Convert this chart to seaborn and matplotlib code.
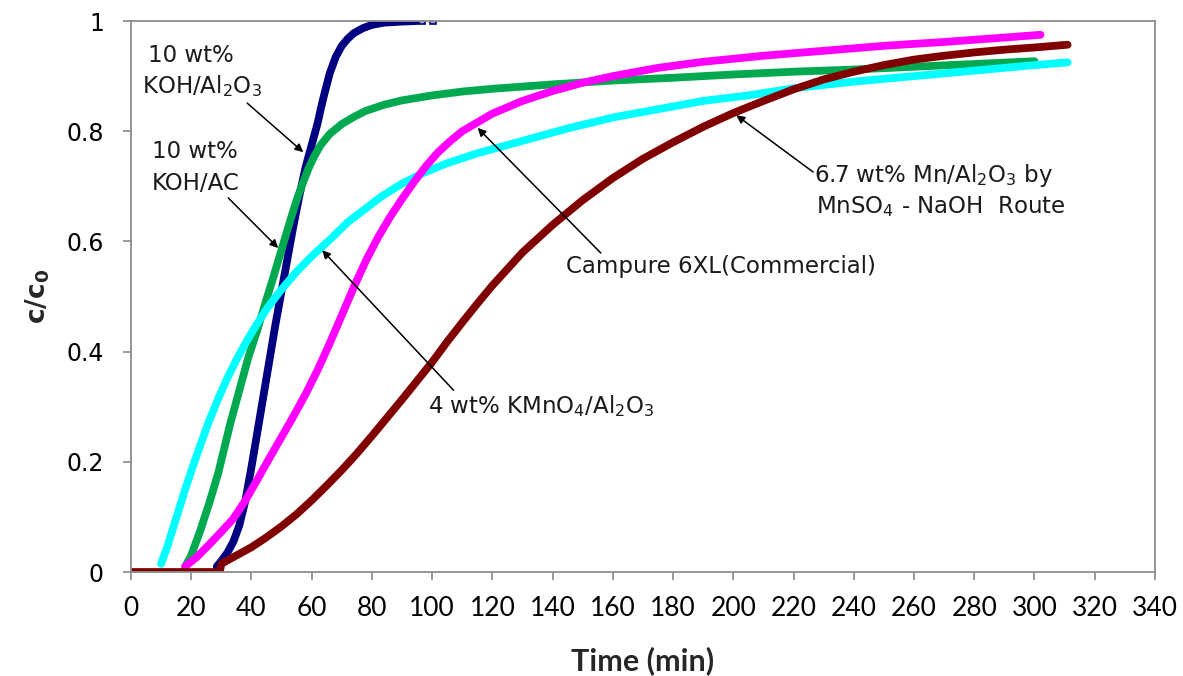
import numpy as np
import pandas as pd
import matplotlib
matplotlib.use("Agg")
import matplotlib.pyplot as plt
import seaborn as sns

# Breakthrough curves: time (min) vs c/c0
koh_al2o3_t = [28.5, 30, 32, 34, 36, 38, 40, 42, 44, 46, 48, 50, 52, 54, 56, 58, 60, 62, 63,
               64, 66, 68, 70, 72, 74, 77, 80, 84, 90, 95, 96.7, 100.3]
koh_al2o3_c = [0.01, 0.02, 0.035, 0.055, 0.085, 0.13, 0.19, 0.255, 0.32, 0.385, 0.45, 0.51,
               0.57, 0.63, 0.685, 0.735, 0.775, 0.815, 0.84, 0.863, 0.905, 0.935, 0.955,
               0.968, 0.978, 0.987, 0.993, 0.997, 0.999, 1.0, 1.0, 1.0]

koh_ac_t = [18, 20, 23, 26, 29, 31, 33, 36, 39, 42, 45, 47, 50, 53, 55, 57, 59, 61, 63, 66,
            70, 74, 78, 84, 90, 100, 110, 120, 140, 160, 180, 200, 220, 240, 260, 280, 300]
koh_ac_c = [0.01, 0.03, 0.075, 0.125, 0.18, 0.225, 0.27, 0.33, 0.39, 0.44, 0.495, 0.53,
            0.585, 0.64, 0.675, 0.705, 0.733, 0.756, 0.775, 0.795, 0.813, 0.826, 0.837,
            0.848, 0.856, 0.865, 0.872, 0.877, 0.885, 0.892, 0.897, 0.903, 0.908, 0.912,
            0.917, 0.922, 0.927]

kmno4_t = [10, 12, 14, 16, 18, 20, 23, 26, 29, 32, 35, 38, 41, 45, 50, 55, 60, 66, 72, 78,
           83, 90, 97, 105, 115, 125, 135, 145, 160, 175, 190, 205, 220, 240, 260, 280, 300,
           311]
kmno4_c = [0.015, 0.045, 0.08, 0.115, 0.15, 0.183, 0.23, 0.275, 0.315, 0.352, 0.385, 0.415,
           0.443, 0.477, 0.513, 0.545, 0.573, 0.603, 0.635, 0.66, 0.681, 0.705, 0.724, 0.742,
           0.76, 0.775, 0.79, 0.805, 0.825, 0.84, 0.855, 0.865, 0.878, 0.89, 0.90, 0.91,
           0.92, 0.925]

campure_t = [18, 22, 26, 30, 34, 38, 42, 46, 50, 54, 58, 62, 66, 70, 74, 78, 82, 86, 90, 94,
             98, 102, 106, 110, 115, 120, 130, 140, 150, 160, 175, 190, 210, 230, 250, 270,
             290, 302]
campure_c = [0.01, 0.028, 0.05, 0.073, 0.097, 0.13, 0.168, 0.207, 0.245, 0.283, 0.323,
             0.367, 0.415, 0.466, 0.517, 0.565, 0.607, 0.644, 0.677, 0.708, 0.737, 0.762,
             0.782, 0.80, 0.816, 0.832, 0.855, 0.873, 0.888, 0.90, 0.915, 0.926, 0.937,
             0.946, 0.955, 0.962, 0.97, 0.975]

mn_t = [0, 29.5, 30, 35, 40, 45, 50, 55, 60, 65, 70, 75, 80, 85, 90, 95, 100, 105, 110, 115,
        120, 130, 140, 150, 160, 170, 180, 190, 200, 210, 220, 230, 240, 250, 260, 270, 280,
        290, 300, 311]
mn_c = [0.0, 0.0, 0.015, 0.03, 0.045, 0.063, 0.083, 0.105, 0.13, 0.157, 0.185, 0.215, 0.247,
        0.28, 0.313, 0.347, 0.381, 0.418, 0.453, 0.487, 0.52, 0.58, 0.63, 0.675, 0.715, 0.75,
        0.78, 0.808, 0.833, 0.855, 0.876, 0.894, 0.908, 0.92, 0.93, 0.937, 0.943, 0.948,
        0.952, 0.957]

x_ticks = list(range(0, 341, 20))
y_ticks = [0, 0.2, 0.4, 0.6, 0.8, 1.0]
y_tick_labels = ["0", "0.2", "0.4", "0.6", "0.8", "1"]

sns.set_theme(style="white")
plt.rcParams["font.family"] = ["DejaVu Sans"]
plt.rcParams["mathtext.default"] = "regular"

fig = plt.figure(figsize=(11.83, 6.76), dpi=100)
ax = fig.add_axes([0.1107, 0.1538, 0.9763 - 0.1107, 0.9689 - 0.1538])

# KOH/Al2O3: dense trace, then two isolated points at the end
df_k = pd.DataFrame({"t": koh_al2o3_t, "c": koh_al2o3_c})
sns.lineplot(data=df_k.iloc[:-2], x="t", y="c", ax=ax, color="#000080", lw=5.6,
             sort=False, estimator=None, solid_capstyle="round")
ax.plot(df_k["t"].iloc[-2:], df_k["c"].iloc[-2:], ls="none", marker="s", ms=4,
        mfc="#9fa8d8", mec="#000080", mew=1.2)

series = [
    (koh_ac_t, koh_ac_c, "#00A94F"),
    (kmno4_t, kmno4_c, "#00FFFF"),
    (campure_t, campure_c, "#FF00FF"),
    (mn_t, mn_c, "#800000"),
]
for t, c, col in series:
    df = pd.DataFrame({"t": t, "c": c})
    sns.lineplot(data=df, x="t", y="c", ax=ax, color=col, lw=5.6, sort=False,
                 estimator=None, solid_capstyle="round")

ax.set_xlim(0, 340)
ax.set_ylim(0, 1)
ax.set_xticks(x_ticks)
ax.set_xticklabels([str(v) for v in x_ticks], fontfamily="Lato", fontsize=19)
ax.set_yticks(y_ticks)
ax.set_yticklabels(y_tick_labels, fontsize=17)
ax.tick_params(axis="both", direction="out", length=5.5, width=1.2, color="#888888",
               colors="black")
ax.tick_params(axis="x", pad=12, bottom=True)
ax.tick_params(axis="y", pad=14, left=True)

for s in ax.spines.values():
    s.set_visible(True)
    s.set_color("#8c8c8c")
    s.set_linewidth(1.3)

ax.set_xlabel("Time (min)", fontfamily="Lato", fontweight="bold", fontsize=22, labelpad=18)
ax.set_ylabel(r"c/c$_0$", fontweight="bold", fontsize=19, labelpad=10)

# callout arrows (tail -> head)
arrow = dict(arrowstyle="-|>", color="black", lw=1.1, mutation_scale=12, shrinkA=0, shrinkB=0)
callouts = [
    ((38.6, 0.851), (57.2, 0.762)),
    ((32.3, 0.679), (48.9, 0.588)),
    ((107.1, 0.330), (63.5, 0.584)),
    ((156.0, 0.579), (115.1, 0.806)),
    ((226.5, 0.726), (201.0, 0.829)),
]
for tail, head in callouts:
    ax.annotate("", xy=head, xytext=tail, arrowprops=arrow)

# callout labels, one line each, positioned by baseline
ann_fs = 16.5
labels = [
    (5.66, 0.926, "10 wt%"),
    (3.66, 0.869, "KOH/Al$_2$O$_3$"),
    (7.0, 0.751, "10 wt%"),
    (7.0, 0.693, "KOH/AC"),
    (98.5, 0.289, "4 wt% KMnO$_4$/Al$_2$O$_3$"),
    (144.4, 0.543, "Campure 6XL(Commercial)"),
    (226.9, 0.708, "6.7 wt% Mn/Al$_2$O$_3$ by"),
    (227.5, 0.652, "MnSO$_4$ - NaOH  Route"),
]
for x, y, s in labels:
    ax.text(x, y, s, fontsize=ann_fs, ha="left", va="baseline", color="#1a1a1a")

fig.savefig("out.png", dpi=100)
